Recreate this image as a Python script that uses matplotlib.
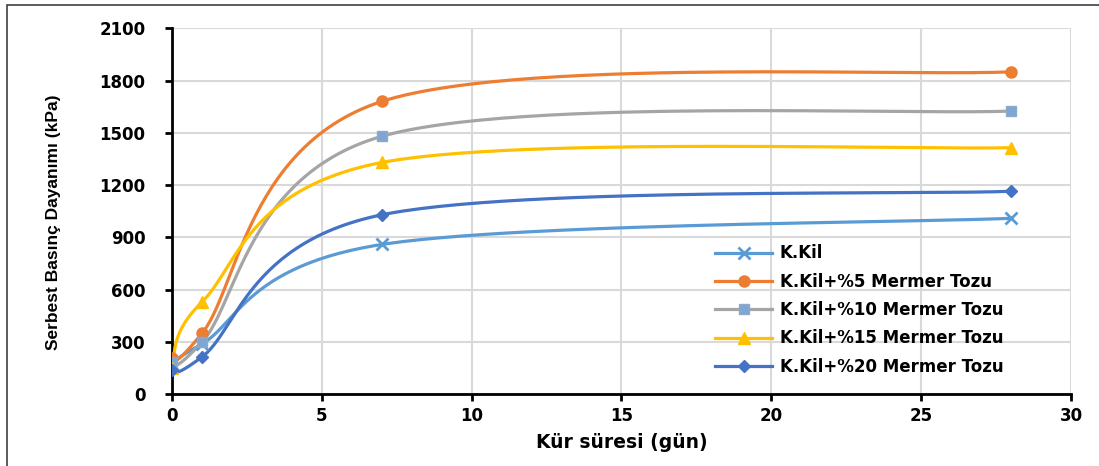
import numpy as np
import matplotlib
matplotlib.use('Agg')
import matplotlib.pyplot as plt
from matplotlib.patches import Rectangle

# values
days = [0, 1, 7, 28]
k_kil = [175, 290, 860, 1010]
mt_5 = [210, 350, 1680, 1850]
mt_10 = [185, 300, 1480, 1625]
mt_15 = [150, 530, 1330, 1415]
mt_20 = [140, 215, 1030, 1165]

labels = ['K.Kil', 'K.Kil+%5 Mermer Tozu', 'K.Kil+%10 Mermer Tozu',
          'K.Kil+%15 Mermer Tozu', 'K.Kil+%20 Mermer Tozu']
colors = ['#5B9BD5', '#ED7D31', '#A5A5A5', '#FFC000', '#4472C4']
markers = ['x', 'o', 's', '^', 'D']

x_ticks = [0, 5, 10, 15, 20, 25, 30]
y_ticks = [0, 300, 600, 900, 1200, 1500, 1800, 2100]


def smooth_curve(xs, ys, n=60):
    """
    excel-like smoothed line: cubic bezier through the points (catmull-rom controls).
    """
    pts = np.column_stack([xs, ys]).astype(float)
    padded = np.vstack([pts[0], pts, pts[-1]])
    t = np.linspace(0, 1, n)[:, None]
    out = []
    for i in range(len(pts) - 1):
        p0, p1 = padded[i + 1], padded[i + 2]
        c1 = p0 + (padded[i + 2] - padded[i]) / 6
        c2 = p1 - (padded[i + 3] - padded[i + 1]) / 6
        seg = ((1 - t) ** 3 * p0 + 3 * (1 - t) ** 2 * t * c1
               + 3 * (1 - t) * t ** 2 * c2 + t ** 3 * p1)
        out.append(seg if i == 0 else seg[1:])
    out = np.vstack(out)
    return out[:, 0], out[:, 1]


def marker_style(col, mk):
    """
    marker settings for one series (also used for the legend handles).
    """
    kw = dict(color=col, linewidth=2.3, marker=mk, markersize=8)
    if mk == 'x':
        kw.update(markersize=8, markeredgewidth=2)
    elif mk == 's':
        kw.update(markersize=7, markerfacecolor='#7FA6D3', markeredgecolor='#8FA9C8')
    elif mk == 'D':
        kw.update(markersize=6.5)
    return kw


fig = plt.figure(figsize=(10.99, 4.66), dpi=100)
ax = fig.add_axes([0.1565, 0.1535, 0.818, 0.786])

# outer chart frame
fig.patches.append(Rectangle((7 / 1099, -0.1), 1.2, 1 - 5 / 466 + 0.1,
                             transform=fig.transFigure, fill=False,
                             edgecolor='#404040', linewidth=1.2))

series = [k_kil, mt_5, mt_10, mt_15, mt_20]
for ys, col, mk in zip(series, colors, markers):
    sx, sy = smooth_curve(days, ys)
    ax.plot(sx, sy, color=col, linewidth=2.3, zorder=3, solid_capstyle='round')
    ax.plot(days, ys, linestyle='none', zorder=4, **marker_style(col, mk))

leg_handles = [plt.Line2D([], [], **marker_style(col, mk))
               for col, mk in zip(colors, markers)]
ax.legend(leg_handles, labels, loc='upper left',
          bbox_to_anchor=(707 / 1099, 1 - 236 / 466), bbox_transform=fig.transFigure,
          frameon=False, borderpad=0, handlelength=3.4, handletextpad=0.45,
          labelspacing=0.62, prop={'weight': 'bold', 'size': 12})

ax.set_xlim(0, 30)
ax.set_ylim(0, 2100)
ax.set_xticks(x_ticks)
ax.set_yticks(y_ticks)
ax.grid(True, color='#D9D9D9', linewidth=1.5)
ax.set_axisbelow(True)

for side in ['top', 'right']:
    ax.spines[side].set_visible(False)
for side in ['left', 'bottom']:
    ax.spines[side].set_linewidth(2)
    ax.spines[side].set_color('black')
ax.tick_params(direction='out', length=5, width=2, labelsize=12)
ax.tick_params(axis='y', pad=14)
ax.tick_params(axis='x', pad=4)
for lbl in ax.get_xticklabels() + ax.get_yticklabels():
    lbl.set_fontweight('bold')

ax.set_xlabel('Kür süresi (gün)', fontsize=13.5, fontweight='bold', labelpad=6)
ax.set_ylabel('Serbest Basınç Dayanımı (kPa)', fontsize=12.5, fontweight='bold',
              family=['Liberation Sans', 'DejaVu Sans'])
ax.yaxis.set_label_coords(-0.124, 0.47)

fig.savefig('out.png', dpi=100)
